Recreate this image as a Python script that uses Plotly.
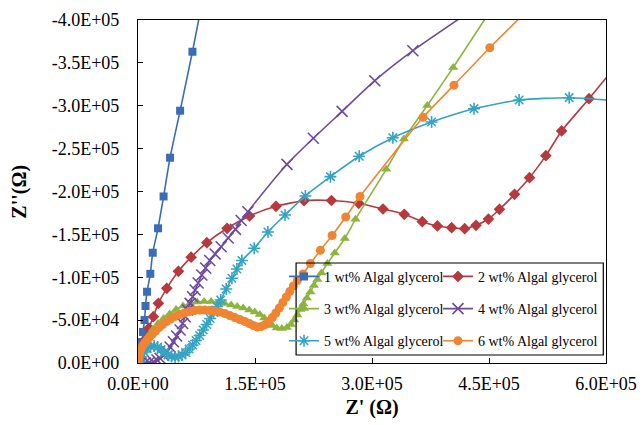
import plotly.graph_objects as go

s1_zre = [0.6, 1.3, 2.6, 3.9, 5.1, 6.4, 8.4, 9.6, 11.6, 15.8, 18.9, 25.7, 32.8, 41.1, 54.0, 69.8, 89.9]
s1_zim = [-0.6, -3.5, -8.2, -15.2, -24.5, -36.2, -50.1, -66.5, -83.1, -104.0, -128.6, -157.1, -194.2,
          -239.4, -294.2, -363.0, -456.0]

s2_zre = [0.6, 2.6, 5.1, 9.0, 14.1, 19.7, 26.1, 36.9, 51.8, 68.1, 88.3, 114.2, 143.0, 176.9, 212.9,
          248.0, 283.0, 314.1, 341.4, 364.5, 383.8, 402.1, 418.8, 433.4, 449.3, 463.4, 482.7, 502.0,
          522.9, 543.1, 578.2, 609.0]
s2_zim = [-1.2, -7.0, -15.2, -26.8, -40.8, -54.0, -69.6, -87.1, -106.9, -123.4, -140.3, -157.1, -171.4,
          -182.7, -189.3, -189.5, -186.2, -179.6, -173.4, -164.8, -159.8, -157.8, -156.6, -160.6,
          -167.9, -179.2, -196.7, -216.1, -241.8, -270.6, -308.2, -342.3]

s3_zre = [0.6, 2.6, 5.1, 9.0, 14.1, 19.3, 25.7, 32.8, 40.5, 48.8, 57.8, 66.8, 75.8, 84.8, 93.8, 102.8,
          111.1, 119.5, 127.2, 134.9, 142.6, 149.7, 156.1, 161.9, 167.0, 172.2, 177.9, 184.4, 190.8,
          195.9, 200.4, 204.3, 208.1, 212.0, 216.5, 221.0, 225.5, 230.0, 235.1, 242.8, 252.2, 265.1,
          278.8, 318.2, 340.9, 370.9, 404.1, 465.1]
s3_zim = [-1.2, -8.2, -16.3, -24.5, -32.7, -39.7, -46.1, -51.9, -57.1, -62.4, -66.5, -69.4, -71.1,
          -71.7, -71.7, -70.6, -69.4, -67.6, -65.9, -64.1, -61.8, -59.5, -56.6, -52.5, -47.8, -43.7,
          -40.8, -40.2, -41.4, -44.9, -50.1, -56.0, -62.4, -68.8, -75.8, -82.8, -90.4, -97.4, -105.0,
          -116.0, -128.3, -145.2, -167.6, -225.9, -261.2, -300.3, -344.6, -429.2]

s4_zre = [0.6, 3.9, 9.0, 14.1, 19.7, 24.4, 28.3, 32.8, 36.9, 41.1, 45.4, 49.5, 54.0, 57.2, 60.4, 63.6,
          66.8, 70.0, 73.2, 77.1, 81.8, 86.7, 92.0, 98.9, 106.6, 115.6, 125.0, 132.3, 140.9, 191.0,
          224.8, 261.7, 303.6, 352.4, 426.5]
s4_zim = [-0.0, -0.1, -0.2, -0.6, -1.5, -3.5, -5.5, -8.7, -13.2, -18.7, -24.8, -31.5, -38.5, -46.1,
          -54.0, -61.8, -69.6, -77.3, -85.1, -93.3, -102.6, -110.8, -119.5, -127.1, -135.6, -145.8,
          -155.9, -166.2, -176.4, -231.7, -262.1, -293.5, -329.2, -364.2, -410.5]

s5_zre = [0.6, 1.3, 3.9, 7.7, 11.6, 16.1, 20.6, 25.1, 29.6, 34.0, 38.5, 43.0, 47.5, 52.0, 56.5, 61.0,
          65.5, 70.0, 74.5, 79.0, 83.5, 88.0, 92.5, 97.0, 101.5, 106.0, 113.1, 120.4, 126.8, 133.2,
          149.0, 166.6, 188.5, 214.6, 246.7, 283.6, 326.7, 376.4, 430.8, 488.6, 552.8, 621.8]
s5_zim = [-0.6, -2.3, -7.0, -12.8, -16.9, -19.2, -19.8, -18.7, -15.7, -12.2, -9.3, -7.6, -7.0, -7.6,
          -9.3, -12.2, -16.3, -21.0, -26.2, -32.1, -38.5, -44.9, -51.9, -58.9, -65.9, -73.5, -86.3,
          -98.8, -109.6, -119.5, -133.8, -152.8, -172.6, -194.8, -217.3, -241.1, -262.7, -281.1,
          -296.6, -306.7, -309.4, -305.4]

s6_zre = [0.4, 1.0, 2.1, 3.6, 5.8, 8.4, 11.6, 14.8, 18.6, 22.5, 27.0, 31.5, 36.6, 41.8, 47.5, 53.3,
          59.7, 66.2, 72.6, 79.0, 85.4, 91.9, 98.3, 104.7, 111.1, 117.6, 124.0, 130.4, 136.8, 142.6,
          147.8, 152.9, 158.0, 163.2, 167.7, 172.2, 176.7, 181.2, 185.7, 190.2, 194.6, 199.1, 204.3,
          211.6, 221.0, 233.8, 248.9, 266.3, 284.6, 365.5, 405.1, 451.0, 502.4]
s6_zim = [-0.6, -5.8, -11.1, -15.7, -19.8, -23.3, -26.8, -30.3, -33.8, -37.3, -41.4, -44.9, -48.4,
          -51.3, -54.2, -56.6, -58.3, -60.1, -61.2, -61.8, -61.8, -61.2, -60.6, -59.5, -57.7, -55.4,
          -53.1, -50.7, -48.4, -46.1, -43.7, -42.0, -42.6, -44.9, -48.4, -53.1, -58.3, -64.1, -70.6,
          -77.0, -83.4, -89.8, -96.2, -103.8, -116.0, -131.4, -148.7, -170.3, -194.2, -286.5, -324.0,
          -367.7, -414.0]

series_names = ["1 wt% Algal glycerol", "2 wt% Algal glycerol", "3 wt% Algal glycerol",
                "4 wt% Algal glycerol", "5 wt% Algal glycerol", "6 wt% Algal glycerol"]

x_tick_vals = [0, 150000, 300000, 450000, 600000]
x_tick_text = ["0.0E+00", "1.5E+05", "3.0E+05", "4.5E+05", "6.0E+05"]
y_tick_vals = [0, -50000, -100000, -150000, -200000, -250000, -300000, -350000, -400000]
y_tick_text = ["0.0E+00", "-5.0E+04", "-1.0E+05", "-1.5E+05", "-2.0E+05", "-2.5E+05",
               "-3.0E+05", "-3.5E+05", "-4.0E+05"]

KOHM = 1000.0
data = [(s1_zre, s1_zim), (s2_zre, s2_zim), (s3_zre, s3_zim),
        (s4_zre, s4_zim), (s5_zre, s5_zim), (s6_zre, s6_zim)]
colors = ["#3A6DB5", "#B63A3D", "#8CB43F", "#6D4A9E", "#35A3C4", "#EF8532"]
symbols = ["square", "diamond", "triangle-up", "x-thin", "asterisk", "circle"]
sizes = [8, 9, 9, 11, 10, 9]
legends = ["legend", "legend2", "legend", "legend2", "legend", "legend2"]

fig = go.Figure()
for i, (zre, zim) in enumerate(data):
    fig.add_trace(go.Scatter(
        x=[v * KOHM for v in zre], y=[v * KOHM for v in zim],
        mode="lines+markers", name=series_names[i],
        line=dict(color=colors[i], width=1.6, shape="spline", smoothing=0.6),
        marker=dict(symbol=symbols[i], size=sizes[i], color=colors[i],
                    line=dict(color=colors[i], width=1.6 if i in (3, 4) else 0)),
        legend=legends[i], legendgroup=f"g{i}",
    ))

font_family = "Liberation Serif"
legend_common = dict(
    bgcolor="rgba(0,0,0,0)", borderwidth=0, orientation="v",
    font=dict(family=font_family, size=14, color="black"),
    tracegroupgap=11, itemwidth=30, xanchor="left", yanchor="top",
)
fig.update_layout(
    width=642, height=425,
    margin=dict(l=138, r=36, t=20, b=62),
    paper_bgcolor="white", plot_bgcolor="white",
    font=dict(family=font_family, color="black"),
    showlegend=True,
    legend=dict(x=0.312, y=0.298, **legend_common),
    legend2=dict(x=0.641, y=0.298, **legend_common),
    shapes=[dict(type="rect", xref="paper", yref="paper", x0=0.3378, x1=0.9942,
                 y0=0.0233, y1=0.2915, line=dict(color="black", width=1.2),
                 fillcolor="rgba(0,0,0,0)", layer="above")],
    annotations=[dict(text="<b>Z''(Ω)</b>", xref="paper", yref="paper", x=-0.254, y=0.5,
                      xanchor="center", yanchor="middle", textangle=-90, showarrow=False,
                      font=dict(family=font_family, size=20, color="black"))],
)
fig.update_xaxes(
    range=[0, 600000], tickvals=x_tick_vals, ticktext=x_tick_text,
    ticks="inside", ticklen=5, tickcolor="black", tickwidth=1,
    showline=True, linecolor="black", linewidth=1.2, mirror=True,
    showgrid=False, zeroline=False, automargin=False,
    tickfont=dict(family=font_family, size=18, color="black"), ticklabelstandoff=4,
    title=dict(text="<b>Z' (Ω)</b>", font=dict(family=font_family, size=20, color="black"), standoff=7),
)
fig.update_yaxes(
    range=[0, -400000], tickvals=y_tick_vals, ticktext=y_tick_text,
    ticks="inside", ticklen=5, tickcolor="black", tickwidth=1,
    showline=True, linecolor="black", linewidth=1.2, mirror=True,
    showgrid=False, zeroline=False, automargin=False,
    tickfont=dict(family=font_family, size=18, color="black"), ticklabelstandoff=14,
)
fig.write_html("out.html")
